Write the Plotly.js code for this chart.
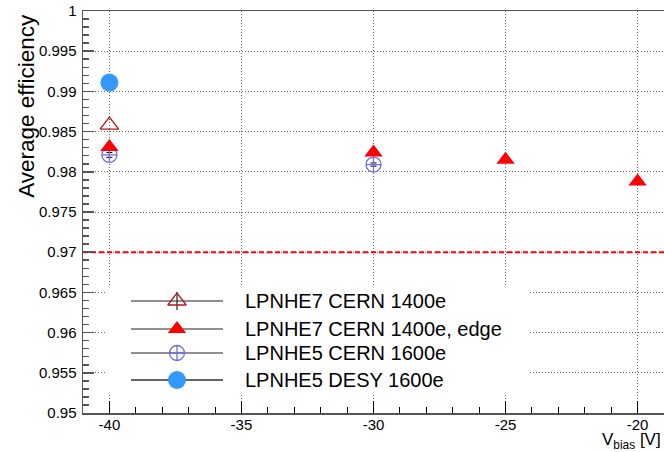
<!DOCTYPE html>
<html>
<head>
<meta charset="utf-8">
<script src="https://cdn.plot.ly/plotly-3.0.1.min.js"></script>
<style>html,body{margin:0;padding:0;background:#fff;}</style>
</head>
<body>
<div id="chart" style="width:664px;height:452px;"></div>
<script>
// ---- data ----
var seriesNames = ["LPNHE7 CERN 1400e", "LPNHE7 CERN 1400e, edge", "LPNHE5 CERN 1600e", "LPNHE5 DESY 1600e"];
var lp7_x = [-40];
var lp7_y = [0.9858];
var lp7edge_x = [-40, -30, -25, -20];
var lp7edge_y = [0.9831, 0.9824, 0.9815, 0.9788];
var lp5cern_x = [-40, -30];
var lp5cern_y = [0.9821, 0.9809];
var lp5cern_err = [0.0003, 0.0002];
var lp5desy_x = [-40];
var lp5desy_y = [0.9911];
var thresholdX = [-41, -19];
var thresholdY = [0.97, 0.97];
var xTickVals = [-40, -35, -30, -25, -20];
var yTickVals = [0.95, 0.955, 0.96, 0.965, 0.97, 0.975, 0.98, 0.985, 0.99, 0.995, 1];
var yTickText = ["0.95", "0.955", "0.96", "0.965", "0.97", "0.975", "0.98", "0.985", "0.99", "0.995", "1"];

// ---- styles ----
var styles = [
  {symbol: "triangle-up-open", color: "#b01818", size: 16, lw: 1.3},
  {symbol: "triangle-up", color: "#ff0000", size: 16, lw: 0},
  {symbol: "circle-cross-open", color: "#6f6fe0", size: 15, lw: 1.3},
  {symbol: "circle", color: "#3399ff", size: 18, lw: 0}
];
function mk(i) {
  return {symbol: styles[i].symbol, color: styles[i].color, size: styles[i].size,
          line: {color: styles[i].color, width: styles[i].lw}};
}

var traces = [
  {x: thresholdX, y: thresholdY, mode: "lines", line: {color: "#ff0000", width: 2, dash: "5px,3px"}, hoverinfo: "skip", showlegend: false},
  {x: lp5desy_x, y: lp5desy_y, mode: "markers", marker: mk(3), showlegend: false},
  {x: lp5cern_x, y: lp5cern_y, mode: "markers", marker: mk(2), showlegend: false,
   error_y: {type: "data", array: lp5cern_err, visible: true, color: "#000", thickness: 1, width: 3}},
  {x: lp7_x, y: lp7_y, mode: "markers", marker: mk(0), showlegend: false},
  {x: lp7edge_x, y: lp7edge_y, mode: "markers", marker: mk(1), showlegend: false}
];

// ---- manual legend (positions in pixels converted to the main axes) ----
var X0 = -41, X1 = -19, Y0 = 0.95, Y1 = 1;
function px2x(p) { return X0 + (p - 83) / 581 * (X1 - X0); }
function py2y(p) { return Y1 - (p - 11) / 402 * (Y1 - Y0); }
var legRows = [301, 329, 353, 380];
var legMarkerX = 177, legLineX0 = 131, legLineX1 = 223, legTextX = 243;
var shapes = [
  {type: "rect", xref: "x", yref: "y", x0: px2x(105), x1: px2x(530), y0: py2y(287), y1: py2y(395),
   fillcolor: "#ffffff", line: {width: 0}, layer: "between"}
];
var annotations = [];
for (var i = 0; i < seriesNames.length; i++) {
  var yy = py2y(legRows[i]);
  shapes.push({type: "line", xref: "x", yref: "y", x0: px2x(legLineX0), x1: px2x(legLineX1), y0: yy, y1: yy,
               line: {color: i === 3 ? "#666" : "#222", width: i === 3 ? 2 : 1.2}, layer: "between"});
  if (i === 0) {
    shapes.push({type: "line", xref: "x", yref: "y", x0: px2x(legMarkerX), x1: px2x(legMarkerX),
                 y0: py2y(legRows[i] - 9), y1: py2y(legRows[i] + 9),
                 line: {color: "#222", width: 1.2}, layer: "between"});
  }
  traces.push({x: [px2x(legMarkerX)], y: [yy], mode: "markers",
               marker: mk(i), showlegend: false, hoverinfo: "skip"});
  annotations.push({xref: "x", yref: "y", x: px2x(legTextX), y: yy, text: seriesNames[i], showarrow: false,
                    xanchor: "left", yanchor: "middle", font: {family: "Liberation Sans, Arial, sans-serif", size: 20, color: "#000"}});
}
annotations.push({xref: "paper", yref: "paper", x: -0.097, y: 0.997, text: "Average efficiency", textangle: -90,
                  showarrow: false, xanchor: "center", yanchor: "top",
                  font: {family: "Liberation Sans, Arial, sans-serif", size: 22.5, color: "#000"}});
annotations.push({xref: "paper", yref: "paper", x: 0.998, y: -0.07, text: "V<sub>bias</sub> [V]",
                  showarrow: false, xanchor: "right", yanchor: "middle",
                  font: {family: "Liberation Sans, Arial, sans-serif", size: 17, color: "#000"}});

var tickFont = {family: "Liberation Sans, Arial, sans-serif", size: 15, color: "#000"};
var layout = {
  width: 664, height: 452,
  margin: {l: 83, r: 0, t: 11, b: 39},
  paper_bgcolor: "#fff", plot_bgcolor: "#fff",
  showlegend: false,
  xaxis: {range: [X0, X1], tickvals: xTickVals, ticktext: xTickVals.map(String), ticks: "inside", ticklen: 12,
          tickcolor: "#000", tickwidth: 1, showline: true, linecolor: "#555", linewidth: 1.5, mirror: true,
          showgrid: true, gridcolor: "#666", griddash: "1px,2px", gridwidth: 1, zeroline: false,
          tickfont: tickFont, ticklabelstandoff: -3,
          minor: {dtick: 1, ticks: "inside", ticklen: 6, tickcolor: "#000", showgrid: false}},
  yaxis: {range: [Y0, Y1], tickvals: yTickVals, ticktext: yTickText, ticks: "inside", ticklen: 11,
          tickcolor: "#555", tickwidth: 1.5, showline: true, linecolor: "#555", linewidth: 1.5, mirror: true,
          showgrid: true, gridcolor: "#666", griddash: "1px,2px", gridwidth: 1, zeroline: false,
          tickfont: tickFont, ticklabelstandoff: 2,
          minor: {dtick: 0.001, tick0: 0.95, ticks: "inside", ticklen: 6, tickcolor: "#555", tickwidth: 1.5, showgrid: false}},
  shapes: shapes,
  annotations: annotations
};

Plotly.newPlot("chart", traces, layout, {displayModeBar: false, staticPlot: true});
</script>
</body>
</html>
